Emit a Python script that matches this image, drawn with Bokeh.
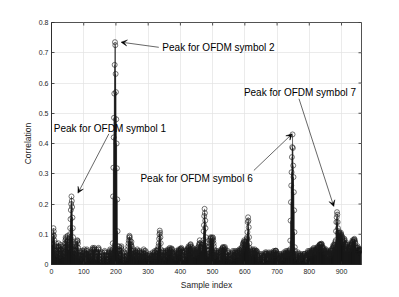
from bokeh.plotting import figure
from bokeh.models import ColumnDataSource, FixedTicker, Range1d, Arrow, VeeHead
from bokeh.core.properties import value
from bokeh.embed import file_html
from bokeh.resources import INLINE

# ---- data ----
correlation = [
    0.07, 0.08, 0.065, 0.09, 0.10, 0.12, 0.11, 0.095, 0.08, 0.06, 0.045, 0.03, 0.05, 0.07, 0.06, 0.04, 0.025, 0.035, 0.05, 0.06,
    0.055, 0.07, 0.06, 0.045, 0.03, 0.02, 0.035, 0.05, 0.065, 0.06, 0.05, 0.04, 0.03, 0.045, 0.055, 0.06, 0.05, 0.035, 0.025, 0.04,
    0.055, 0.07, 0.08, 0.09, 0.085, 0.07, 0.06, 0.075, 0.09, 0.095, 0.08, 0.065, 0.05, 0.07, 0.085, 0.09, 0.10, 0.12, 0.15, 0.18,
    0.20, 0.225, 0.21, 0.19, 0.155, 0.12, 0.09, 0.06, 0.045, 0.035, 0.05, 0.065, 0.07, 0.06, 0.045, 0.03, 0.04, 0.06, 0.075, 0.08,
    0.078, 0.07, 0.055, 0.04, 0.03, 0.02, 0.03, 0.045, 0.04, 0.03, 0.02, 0.015, 0.025, 0.04, 0.045, 0.035, 0.025, 0.02, 0.03, 0.04,
    0.045, 0.05, 0.04, 0.03, 0.02, 0.01, 0.02, 0.035, 0.045, 0.05, 0.045, 0.035, 0.025, 0.03, 0.04, 0.035, 0.025, 0.02, 0.03, 0.04,
    0.035, 0.03, 0.025, 0.02, 0.03, 0.04, 0.05, 0.055, 0.05, 0.045, 0.04, 0.05, 0.055, 0.05, 0.04, 0.03, 0.02, 0.015, 0.025, 0.035,
    0.04, 0.035, 0.03, 0.04, 0.05, 0.055, 0.05, 0.04, 0.03, 0.02, 0.01, 0.005, 0.015, 0.025, 0.035, 0.04, 0.03, 0.02, 0.01, 0.005,
    0.012, 0.02, 0.03, 0.04, 0.045, 0.04, 0.03, 0.02, 0.01, 0.02, 0.03, 0.025, 0.015, 0.01, 0.02, 0.03, 0.04, 0.035, 0.03, 0.04,
    0.045, 0.05, 0.04, 0.03, 0.035, 0.04, 0.03, 0.045, 0.05, 0.07, 0.225, 0.32, 0.42, 0.485, 0.565, 0.66, 0.735, 0.725, 0.63, 0.57,
    0.48, 0.40, 0.318, 0.215, 0.11, 0.06, 0.045, 0.035, 0.05, 0.06, 0.045, 0.03, 0.02, 0.03, 0.045, 0.055, 0.06, 0.05, 0.04, 0.03,
    0.02, 0.01, 0.005, 0.015, 0.03, 0.04, 0.035, 0.025, 0.015, 0.01, 0.02, 0.03, 0.025, 0.02, 0.03, 0.04, 0.05, 0.06, 0.07, 0.08,
    0.09, 0.095, 0.09, 0.08, 0.07, 0.06, 0.065, 0.075, 0.06, 0.045, 0.035, 0.03, 0.04, 0.05, 0.045, 0.035, 0.025, 0.03, 0.04, 0.045,
    0.04, 0.03, 0.02, 0.03, 0.04, 0.05, 0.045, 0.035, 0.025, 0.02, 0.03, 0.04, 0.045, 0.04, 0.03, 0.02, 0.025, 0.035, 0.04, 0.035,
    0.03, 0.025, 0.02, 0.03, 0.04, 0.05, 0.045, 0.035, 0.03, 0.025, 0.035, 0.045, 0.04, 0.03, 0.02, 0.015, 0.02, 0.03, 0.025, 0.02,
    0.015, 0.01, 0.02, 0.03, 0.035, 0.03, 0.02, 0.015, 0.025, 0.03, 0.025, 0.02, 0.03, 0.04, 0.035, 0.03, 0.025, 0.02, 0.03, 0.04,
    0.045, 0.04, 0.03, 0.02, 0.025, 0.035, 0.045, 0.05, 0.045, 0.04, 0.05, 0.06, 0.07, 0.085, 0.10, 0.112, 0.105, 0.09, 0.07, 0.05,
    0.04, 0.03, 0.02, 0.03, 0.04, 0.045, 0.04, 0.03, 0.02, 0.015, 0.025, 0.035, 0.04, 0.045, 0.04, 0.03, 0.025, 0.03, 0.04, 0.045,
    0.05, 0.045, 0.04, 0.035, 0.04, 0.05, 0.055, 0.05, 0.045, 0.04, 0.045, 0.05, 0.053, 0.05, 0.04, 0.03, 0.02, 0.025, 0.03, 0.035,
    0.03, 0.025, 0.02, 0.015, 0.025, 0.035, 0.04, 0.045, 0.04, 0.035, 0.03, 0.035, 0.04, 0.045, 0.05, 0.045, 0.04, 0.035, 0.045, 0.05,
    0.052, 0.05, 0.055, 0.05, 0.045, 0.04, 0.03, 0.02, 0.015, 0.02, 0.03, 0.04, 0.045, 0.04, 0.035, 0.03, 0.025, 0.035, 0.045, 0.05,
    0.045, 0.04, 0.05, 0.055, 0.06, 0.055, 0.05, 0.045, 0.05, 0.06, 0.065, 0.067, 0.06, 0.05, 0.04, 0.035, 0.045, 0.055, 0.05, 0.04,
    0.03, 0.025, 0.035, 0.045, 0.05, 0.045, 0.04, 0.035, 0.03, 0.04, 0.05, 0.055, 0.05, 0.045, 0.04, 0.05, 0.06, 0.065, 0.07, 0.08,
    0.07, 0.06, 0.055, 0.05, 0.045, 0.05, 0.06, 0.065, 0.07, 0.065, 0.08, 0.11, 0.13, 0.16, 0.184, 0.17, 0.145, 0.12, 0.09, 0.07,
    0.06, 0.05, 0.045, 0.04, 0.03, 0.025, 0.035, 0.045, 0.05, 0.06, 0.07, 0.08, 0.085, 0.09, 0.088, 0.08, 0.07, 0.075, 0.085, 0.09,
    0.088, 0.08, 0.07, 0.06, 0.05, 0.04, 0.03, 0.02, 0.03, 0.04, 0.045, 0.04, 0.035, 0.03, 0.025, 0.035, 0.04, 0.045, 0.04, 0.03,
    0.02, 0.015, 0.025, 0.035, 0.04, 0.045, 0.05, 0.045, 0.04, 0.05, 0.055, 0.058, 0.055, 0.05, 0.045, 0.05, 0.055, 0.058, 0.05, 0.04,
    0.035, 0.03, 0.025, 0.02, 0.03, 0.04, 0.045, 0.04, 0.03, 0.02, 0.01, 0.015, 0.025, 0.035, 0.03, 0.02, 0.015, 0.01, 0.02, 0.03,
    0.035, 0.04, 0.045, 0.04, 0.03, 0.025, 0.02, 0.03, 0.04, 0.045, 0.04, 0.035, 0.03, 0.035, 0.04, 0.045, 0.04, 0.03, 0.025, 0.03,
    0.04, 0.045, 0.05, 0.045, 0.04, 0.035, 0.04, 0.05, 0.055, 0.05, 0.045, 0.05, 0.06, 0.07, 0.065, 0.07, 0.075, 0.08, 0.075, 0.07,
    0.065, 0.06, 0.07, 0.075, 0.08, 0.085, 0.09, 0.107, 0.14, 0.156, 0.145, 0.123, 0.09, 0.07, 0.055, 0.05, 0.045, 0.04, 0.04, 0.035,
    0.03, 0.035, 0.04, 0.045, 0.05, 0.045, 0.04, 0.035, 0.04, 0.045, 0.05, 0.045, 0.04, 0.035, 0.04, 0.045, 0.045, 0.04, 0.03, 0.025,
    0.02, 0.015, 0.01, 0.02, 0.03, 0.035, 0.03, 0.025, 0.02, 0.015, 0.02, 0.03, 0.035, 0.03, 0.025, 0.02, 0.01, 0.005, 0.015, 0.025,
    0.03, 0.035, 0.04, 0.035, 0.03, 0.035, 0.04, 0.035, 0.03, 0.02, 0.015, 0.02, 0.03, 0.035, 0.04, 0.035, 0.03, 0.025, 0.02, 0.03,
    0.035, 0.04, 0.035, 0.03, 0.025, 0.02, 0.03, 0.035, 0.04, 0.045, 0.04, 0.035, 0.03, 0.04, 0.045, 0.046, 0.045, 0.04, 0.035, 0.03,
    0.025, 0.02, 0.015, 0.02, 0.03, 0.035, 0.03, 0.025, 0.02, 0.025, 0.03, 0.035, 0.03, 0.025, 0.02, 0.015, 0.02, 0.025, 0.03, 0.035,
    0.04, 0.035, 0.03, 0.025, 0.03, 0.035, 0.04, 0.045, 0.04, 0.035, 0.03, 0.035, 0.04, 0.045, 0.04, 0.035, 0.03, 0.04, 0.045, 0.05,
    0.079, 0.145, 0.206, 0.261, 0.305, 0.355, 0.388, 0.43, 0.385, 0.327, 0.289, 0.239, 0.179, 0.107, 0.057, 0.045, 0.035, 0.03, 0.025, 0.02,
    0.015, 0.02, 0.03, 0.035, 0.04, 0.035, 0.03, 0.02, 0.015, 0.01, 0.02, 0.03, 0.035, 0.03, 0.025, 0.02, 0.015, 0.02, 0.025, 0.03,
    0.035, 0.03, 0.025, 0.03, 0.035, 0.035, 0.03, 0.02, 0.01, 0.005, 0.015, 0.025, 0.03, 0.035, 0.04, 0.045, 0.04, 0.035, 0.03, 0.035,
    0.04, 0.045, 0.04, 0.035, 0.03, 0.035, 0.04, 0.045, 0.05, 0.045, 0.04, 0.045, 0.05, 0.055, 0.05, 0.045, 0.04, 0.035, 0.04, 0.045,
    0.05, 0.055, 0.05, 0.045, 0.05, 0.055, 0.06, 0.055, 0.05, 0.055, 0.06, 0.065, 0.067, 0.065, 0.06, 0.065, 0.068, 0.069, 0.065, 0.06,
    0.055, 0.05, 0.045, 0.05, 0.055, 0.05, 0.045, 0.04, 0.035, 0.04, 0.045, 0.05, 0.045, 0.04, 0.035, 0.03, 0.025, 0.03, 0.035, 0.04,
    0.045, 0.04, 0.035, 0.03, 0.035, 0.04, 0.045, 0.05, 0.045, 0.04, 0.045, 0.05, 0.055, 0.06, 0.065, 0.06, 0.055, 0.06, 0.065, 0.07,
    0.075, 0.08, 0.11, 0.14, 0.156, 0.173, 0.165, 0.14, 0.12, 0.105, 0.10, 0.11, 0.105, 0.10, 0.095, 0.09, 0.10, 0.105, 0.10, 0.095,
    0.09, 0.085, 0.09, 0.08, 0.075, 0.07, 0.075, 0.08, 0.085, 0.08, 0.07, 0.06, 0.05, 0.045, 0.05, 0.06, 0.065, 0.07, 0.065, 0.06,
    0.055, 0.05, 0.045, 0.05, 0.055, 0.06, 0.065, 0.06, 0.055, 0.06, 0.065, 0.07, 0.075, 0.08, 0.075, 0.07, 0.075, 0.08, 0.082, 0.085,
    0.08, 0.075, 0.07, 0.06, 0.055, 0.05, 0.045, 0.05, 0.055, 0.06, 0.055, 0.05, 0.045, 0.04, 0.045, 0.05, 0.047, 0.045, 0.05, 0.047,
]
sample_index = list(range(1, len(correlation) + 1))

x_ticks = [0, 100, 200, 300, 400, 500, 600, 700, 800, 900]
y_ticks = [0, 0.1, 0.2, 0.3, 0.4, 0.5, 0.6, 0.7, 0.8]
y_tick_labels = ["0", "0.1", "0.2", "0.3", "0.4", "0.5", "0.6", "0.7", "0.8"]

annotation_texts = ["Peak for OFDM symbol 1", "Peak for OFDM symbol 2",
                    "Peak for OFDM symbol 6", "Peak for OFDM symbol 7"]
# text anchor (left, middle) in data units
text_x = [7, 344, 276, 597]
text_y = [0.451, 0.718, 0.283, 0.570]
# arrow start / end in data units
arrow_x0 = [178, 333, 628, 768]
arrow_y0 = [0.432, 0.718, 0.311, 0.548]
arrow_x1 = [82, 216, 747, 876]
arrow_y1 = [0.236, 0.735, 0.432, 0.192]

FONT = "Liberation Sans"
AX = "#262626"
X_MIN, X_MAX, Y_MIN, Y_MAX = 0, 962, 0, 0.8
FW, FH = 310, 242
TICK = 3

p = figure(frame_width=FW, frame_height=FH,
           x_range=Range1d(X_MIN, X_MAX), y_range=Range1d(Y_MIN, Y_MAX),
           output_backend="svg", toolbar_location=None,
           min_border_left=51, min_border_top=22, min_border_right=22, min_border_bottom=10,
           background_fill_color="white", border_fill_color="white")
p.outline_line_color = AX
p.outline_line_width = 0.8

for ax in (p.xaxis[0], p.yaxis[0]):
    ax.major_tick_in = TICK
    ax.major_tick_out = 0
    ax.minor_tick_line_color = None
    ax.axis_line_color = AX
    ax.axis_line_width = 0.8
    ax.major_tick_line_color = AX
    ax.major_tick_line_width = 0.8
    ax.major_label_text_font = FONT
    ax.major_label_text_font_size = "7px"
    ax.major_label_text_color = AX
    ax.axis_label_text_font = FONT
    ax.axis_label_text_font_size = "8.5px"
    ax.axis_label_text_font_style = "normal"
    ax.axis_label_text_color = AX

p.xaxis[0].ticker = FixedTicker(ticks=x_ticks)
p.xaxis[0].axis_label = "Sample index"
p.xaxis[0].major_label_standoff = 4
p.xaxis[0].axis_label_standoff = 3

p.yaxis[0].ticker = FixedTicker(ticks=y_ticks)
p.yaxis[0].major_label_overrides = dict(zip(y_ticks, y_tick_labels))
p.yaxis[0].axis_label = "Correlation"
p.yaxis[0].major_label_standoff = 3
p.yaxis[0].axis_label_standoff = 3

p.xgrid.ticker = FixedTicker(ticks=x_ticks)
p.ygrid.ticker = FixedTicker(ticks=y_ticks)
for g in (p.xgrid[0], p.ygrid[0]):
    g.grid_line_color = "#e2e2e2"
    g.grid_line_width = 0.7

# inward ticks on the top and right edges (box on), derived from the tick lists
dy = TICK * (Y_MAX - Y_MIN) / FH
dx = TICK * (X_MAX - X_MIN) / FW
p.segment(x0=x_ticks, y0=[Y_MAX] * len(x_ticks), x1=x_ticks, y1=[Y_MAX - dy] * len(x_ticks),
          line_color=AX, line_width=0.8)
p.segment(x0=[X_MAX] * len(y_ticks), y0=y_ticks, x1=[X_MAX - dx] * len(y_ticks), y1=y_ticks,
          line_color=AX, line_width=0.8)

src = ColumnDataSource(dict(x=sample_index, y=correlation))
p.segment(x0="x", y0=0, x1="x", y1="y", source=src, line_color="black", line_width=0.6)
p.scatter(x="x", y="y", source=src, marker="circle", size=5, fill_color=None,
          line_color="#1a1a1a", line_width=0.6)

tsrc = ColumnDataSource(dict(x=text_x, y=text_y, t=annotation_texts))
p.text(x="x", y="y", text="t", source=tsrc, text_font=value(FONT), text_font_size="10px",
       text_align="left", text_baseline="middle", text_color="black")

for x0, y0, x1, y1 in zip(arrow_x0, arrow_y0, arrow_x1, arrow_y1):
    p.add_layout(Arrow(end=VeeHead(size=6, fill_color="black", line_color="black", line_width=0.5),
                       x_start=x0, y_start=y0, x_end=x1, y_end=y1,
                       line_color="black", line_width=0.6))

open("out.html", "w").write(file_html(p, INLINE))
